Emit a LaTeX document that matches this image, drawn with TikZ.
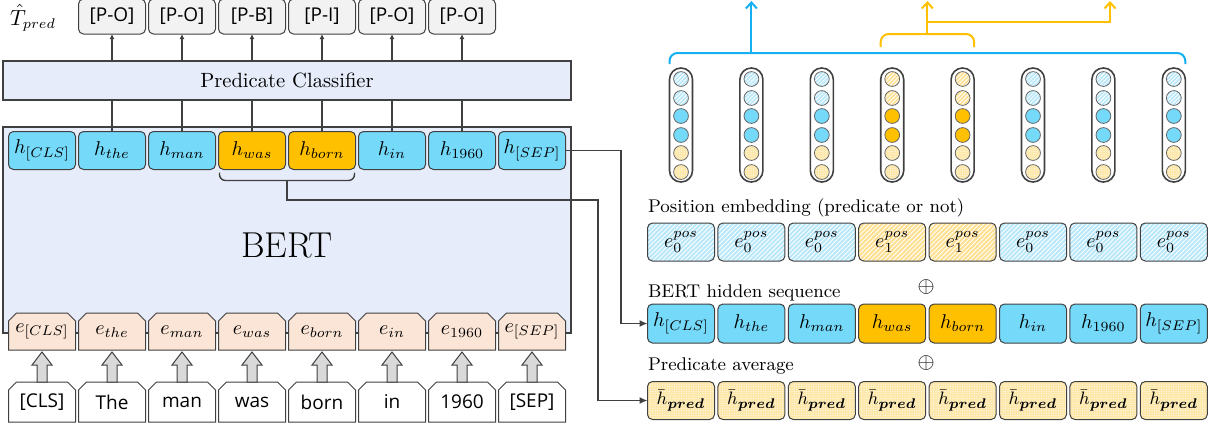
\documentclass[tikz,border=0pt]{standalone}
\usepackage{fontspec}
\usepackage{bm}
\newfontfamily\uifont{Open Sans}
\usetikzlibrary{positioning,calc,shapes.misc,patterns.meta,arrows.meta}
\definecolor{hblue}{RGB}{117,217,250}
\definecolor{horange}{RGB}{255,192,0}
\definecolor{bertfill}{RGB}{230,236,250}
\definecolor{efill}{RGB}{251,229,214}
\definecolor{outfill}{RGB}{242,242,242}
\definecolor{posblue}{RGB}{185,232,251}
\definecolor{posorange}{RGB}{255,224,145}
\definecolor{avgyellow}{RGB}{253,232,170}
\definecolor{braceblue}{RGB}{20,176,240}
\definecolor{lineg}{RGB}{64,64,64}
\definecolor{arrowgray}{RGB}{217,217,217}
\begin{document}
\begin{tikzpicture}[
    x=0.5pt, y=-0.5pt,
    every node/.style={inner sep=0pt, outer sep=0pt},
    conn/.style={draw=lineg, line width=0.7pt},
    tok/.style={draw=lineg, line width=0.5pt, rounded corners=2.5pt,
      minimum width=33.5pt, minimum height=19pt, font=\fontsize{10}{12}\selectfont},
    hidbox/.style={tok, fill=#1},
    outbox/.style={tok, fill=outfill, minimum height=17.5pt,
      font=\uifont\fontsize{9.5}{11}\selectfont},
    embbox/.style={chamfered rectangle, chamfered rectangle corners={north west,north east},
      chamfered rectangle xsep=2pt, chamfered rectangle ysep=2pt,
      draw=lineg, line width=0.5pt, fill=efill,
      minimum width=33.5pt, minimum height=18.5pt, font=\fontsize{10}{12}\selectfont},
    wordbox/.style={embbox, fill=white, minimum height=20pt,
      font=\uifont\fontsize{9.5}{11}\selectfont},
    posbox/.style={tok, preaction={fill=#1},
      pattern={Lines[angle=45,distance=1.6pt,line width=0.45pt]}, pattern color=white},
    avgbox/.style={tok, preaction={fill=avgyellow},
      pattern={Dots[distance=1.2pt,radius=0.25pt]}, pattern color=white},
    capsule/.style={draw=lineg, line width=0.8pt, fill=white, rounded corners=5.7pt,
      minimum width=11.5pt, minimum height=57pt},
    cell/.style={circle, draw=gray!80!black, line width=0.4pt, minimum size=7.4pt},
    cellsolid/.style={cell, fill=#1},
    cellhatch/.style={cell, preaction={fill=#1},
      pattern={Lines[angle=45,distance=1.4pt,line width=0.45pt]}, pattern color=white},
    celldots/.style={cell, preaction={fill=avgyellow},
      pattern={Dots[distance=1.2pt,radius=0.25pt]}, pattern color=white},
    blockup/.style={draw=lineg, line width=0.5pt, fill=arrowgray},
    bluebr/.style={draw=braceblue, line width=1pt, rounded corners=4pt},
    yellowbr/.style={draw=horange, line width=1pt, rounded corners=4pt},
    upar/.style={-{Straight Barb[length=3pt,width=5.5pt]}},
    lbl/.style={anchor=west, font=\fontsize{9.2}{11}\selectfont},
  ]
  \useasboundingbox (0,0) rectangle (1219,425);
  \clip (0,0) rectangle (1219,425);

  \node[font=\fontsize{10.5}{12}\selectfont] (tpred) at (33,18) {$\hat{T}_{pred}$};
  \foreach \i/\t in {2/{[P-O]},3/{[P-O]},4/{[P-B]},5/{[P-I]},6/{[P-O]},7/{[P-O]}}
    \node[outbox] (out\i) at ({42+70*(\i-1)},16.5) {\t};

  \node[draw=lineg, line width=0.8pt, fill=bertfill, minimum width=284pt, minimum height=19.5pt,
    font=\fontsize{10.3}{12}\selectfont] (cls) at (287,80.5) {Predicate Classifier};
  \node[draw=lineg, line width=1pt, fill=bertfill, minimum width=284pt, minimum height=103pt]
    (bert) at (287,230) {};
  \node[font=\fontsize{18}{20}\selectfont] (berttxt) at (287,245) {BERT};

  \foreach \i/\s/\w/\sc in {1/{[CLS]}/{[CLS]}/hblue, 2/the/The/hblue, 3/man/man/hblue,
      4/was/was/horange, 5/born/born/horange, 6/in/in/hblue, 7/1960/1960/hblue,
      8/{[SEP]}/{[SEP]}/hblue} {
    \pgfmathsetmacro\cx{42+70*(\i-1)}
    \node[hidbox=\sc] (h\i) at (\cx,150.5) {$h_{\s}$};
    \node[embbox] (e\i) at (\cx,331.5) {$e_{\s}$};
    \node[wordbox] (w\i) at (\cx,402) {\w};
    \draw[blockup] ($(w\i.north)+(-5,0)$) -- ++(0,-17) -- ++(-5,0) -- ($(e\i.south)+(0,2)$)
      -- ($(w\i.north)+(10,-17)$) -- ++(-5,0) -- ($(w\i.north)+(5,0)$) -- cycle;
  }

  \foreach \i in {2,...,7} {
    \draw[conn] (h\i.north) -- (h\i.north |- cls.south);
    \draw[conn, -{Latex[length=2.5pt,width=2.5pt]}] (cls.north -| out\i) -- (out\i.south);
  }

  \draw[conn, rounded corners=3pt] ($(h4.south west)+(1,3)$) -- ($(h4.south west)+(1,11)$)
    -- ($(h5.south east)+(-1,11)$) -- ($(h5.south east)+(-1,3)$);
  \coordinate (brmid) at ($(h4.south east)!0.5!(h5.south west)+(0,11)$);
  \coordinate (septurn) at (621,150.5);
  \coordinate (avgturn) at (598,200);

  \node[lbl] (poslab) at (648,208) {Position embedding (predicate or not)};
  \node[lbl] (hidlab) at (648,293) {BERT hidden sequence};
  \node[lbl] (avglab) at (648,366) {Predicate average};
  \node[font=\fontsize{11}{12}\selectfont] (plus1) at (926,287) {$\oplus$};
  \node[font=\fontsize{11}{12}\selectfont] (plus2) at (926,363) {$\oplus$};

  \foreach \j/\s/\hc/\sc/\d in {1/{[CLS]}/posblue/hblue/0, 2/the/posblue/hblue/0,
      3/man/posblue/hblue/0, 4/was/posorange/horange/1, 5/born/posorange/horange/1,
      6/in/posblue/hblue/0, 7/1960/posblue/hblue/0, 8/{[SEP]}/posblue/hblue/0} {
    \pgfmathsetmacro\rx{681+70.4*(\j-1)}
    \node[posbox=\hc] (pos\j) at (\rx,242) {$e^{pos}_{\d}$};
    \node[hidbox=\sc, minimum height=19.5pt] (hid\j) at (\rx,323.5) {$h_{\s}$};
    \node[avgbox, font=\fontsize{9.5}{11}\selectfont] (avg\j) at (\rx,400.5)
      {$\bar{h}_{\bm{pred}}$};
    \node[capsule] (v\j) at (\rx,125) {};
    \node[cellhatch=\hc] (c\j a) at (\rx,79) {};
    \node[cellhatch=\hc] (c\j b) at (\rx,98) {};
    \node[cellsolid=\sc] (c\j c) at (\rx,116) {};
    \node[cellsolid=\sc] (c\j d) at (\rx,135) {};
    \node[celldots] (c\j e) at (\rx,153) {};
    \node[celldots] (c\j f) at (\rx,172) {};
  }

  \draw[conn, -{Latex[length=4pt,width=3.5pt]}] (h8.east) -- (septurn) |- (hid1.west);
  \draw[conn, -{Latex[length=4pt,width=3.5pt]}] (brmid) |- (avgturn) |- (avg1.west);

  \draw[bluebr] ($(v1.north west)+(0,-4)$) -- ($(v1.north west)+(0,-15)$)
    -- ($(v8.north east)+(0,-15)$) -- ($(v8.north east)+(0,-4)$);
  \coordinate (bluestem) at ($(v2.north)+(0,-15)$);
  \coordinate (bluetop) at ($(bluestem |- 0,0)+(0,1)$);
  \draw[bluebr, upar] (bluestem) -- (bluetop);

  \draw[yellowbr] ($(v4.north west)+(0,-21)$) -- ($(v4.north west)+(0,-34)$)
    -- ($(v5.north east)+(0,-34)$) -- ($(v5.north east)+(0,-21)$);
  \coordinate (ymid) at ($(v4.north)!0.5!(v5.north)+(0,-34)$);
  \coordinate (ytopa) at ($(ymid |- 0,0)+(0,1)$);
  \coordinate (ybranch) at ($(ymid |- 0,0)+(0,22)$);
  \coordinate (ytopb) at (1110,1);
  \draw[yellowbr, upar] (ymid) -- (ytopa);
  \draw[yellowbr, upar, rounded corners=0pt] (ybranch) -| (ytopb);
\end{tikzpicture}
\end{document}
